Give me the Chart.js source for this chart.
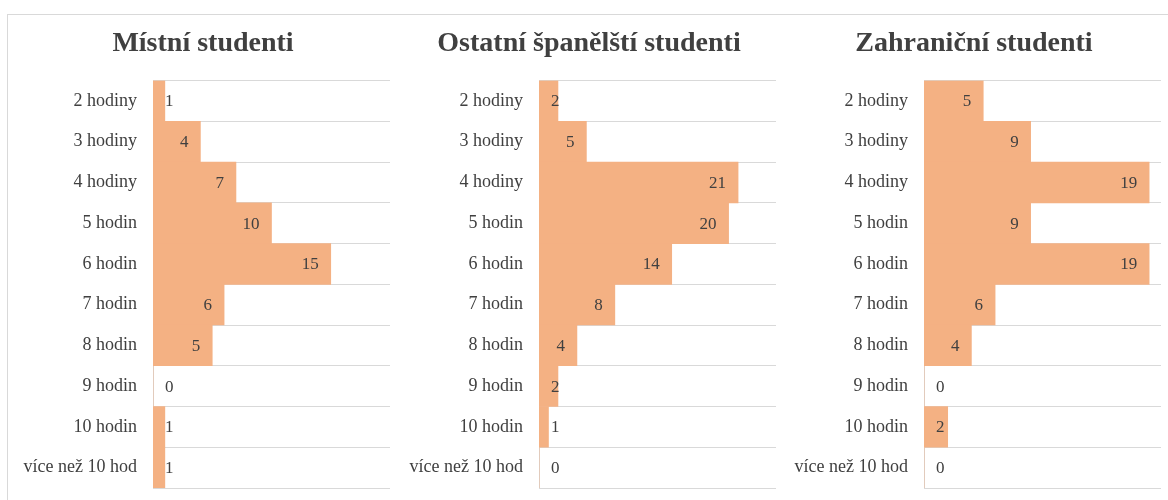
<!DOCTYPE html>
<html>
<head>
<meta charset="utf-8">
<script src="https://cdn.jsdelivr.net/npm/chart.js@4"></script>
<style>
  html, body { margin: 0; padding: 0; background: #fff; }
  body { width: 1168px; height: 500px; overflow: hidden; position: relative; }
  .frame { position: absolute; left: 7px; top: 14px; width: 1200px; height: 520px; border: 1px solid #d9d9d9; }
  canvas { position: absolute; top: 0; }
</style>
</head>
<body>
<div class="frame"></div>
<canvas id="c1" width="386" height="500" style="left:16px"></canvas>
<canvas id="c2" width="386" height="500" style="left:402px"></canvas>
<canvas id="c3" width="386" height="500" style="left:787px"></canvas>
<script>
const hours = ['2 hodiny', '3 hodiny', '4 hodiny', '5 hodin', '6 hodin', '7 hodin', '8 hodin', '9 hodin', '10 hodin', 'více než 10 hod'];
const localStudents = [1, 4, 7, 10, 15, 6, 5, 0, 1, 1];
const spanishStudents = [2, 5, 21, 20, 14, 8, 4, 2, 1, 0];
const foreignStudents = [5, 9, 19, 9, 19, 6, 4, 0, 2, 0];

const serif = '"Liberation Serif", "Times New Roman", serif';
const textColor = '#404040';
const gridColor = '#d9d9d9';

// labels drawn at the inner end of each bar
const valueLabels = {
  id: 'valueLabels',
  afterDatasetsDraw(chart) {
    const ctx = chart.ctx;
    const meta = chart.getDatasetMeta(0);
    const data = chart.data.datasets[0].data;
    ctx.save();
    ctx.font = '17px ' + serif;
    ctx.fillStyle = textColor;
    ctx.textAlign = 'right';
    ctx.textBaseline = 'middle';
    meta.data.forEach((bar, i) => {
      const txt = String(data[i]);
      const w = ctx.measureText(txt).width;
      const right = Math.max(bar.x - 12, bar.base + 12 + w);
      ctx.fillText(txt, right, bar.y + 1);
    });
    ctx.restore();
  }
};

function makeChart(id, title, values, max) {
  new Chart(document.getElementById(id), {
    type: 'bar',
    data: {
      labels: hours,
      datasets: [{
        data: values,
        backgroundColor: '#F4B183',
        borderWidth: 0,
        barPercentage: 1,
        categoryPercentage: 1
      }]
    },
    options: {
      indexAxis: 'y',
      responsive: false,
      animation: false,
      layout: { padding: { left: 0, right: 12, top: 0, bottom: 12 } },
      plugins: {
        legend: { display: false },
        tooltip: { enabled: false },
        title: {
          display: true,
          text: title,
          color: textColor,
          font: { family: serif, size: 28, weight: 'bold', lineHeight: 1.2 },
          padding: { top: 27, bottom: 20 }
        }
      },
      scales: {
        x: { display: false, min: 0, max: max },
        y: {
          afterFit(scale) {
            scale.width = 137;
            scale.paddingTop = 0;
            scale.paddingBottom = 0;
          },
          grid: { color: gridColor, lineWidth: 1, drawTicks: false, offset: true },
          border: { color: gridColor },
          ticks: { color: textColor, font: { family: serif, size: 18 }, padding: 16 }
        }
      }
    },
    plugins: [valueLabels]
  });
}

makeChart('c1', 'Místní studenti', localStudents, 20);
makeChart('c2', 'Ostatní španělští studenti', spanishStudents, 25);
makeChart('c3', 'Zahraniční studenti', foreignStudents, 20);
</script>
</body>
</html>
